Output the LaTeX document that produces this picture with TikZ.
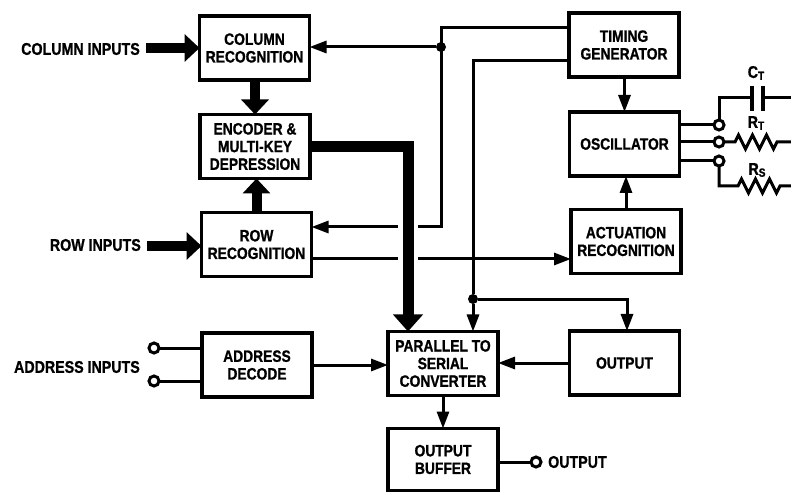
\documentclass[tikz,border=0pt]{standalone}
\usepackage{fontspec}
\setmainfont{Liberation Sans}[FakeStretch=0.84,BoldFeatures={FakeBold=1}]
\usepackage{tikz}
\usetikzlibrary{arrows.meta,positioning,calc}

\tikzset{
    block/.style={draw, line width=3.4bp, outer sep=0pt, inner sep=0pt, minimum width=110bp, minimum height=64bp,
        align=center, font=\fontsize{16.5}{17.7}\selectfont\bfseries},
    txt/.style={inner sep=0pt, font=\fontsize{17}{18}\selectfont\bfseries},
    wire/.style={line width=3bp},
    sig/.style={wire, -{Triangle[length=17bp,width=12bp]}},
    bus/.style={line width=10bp, -{Triangle[length=15bp,width=27bp]}},
    term/.style={circle, draw, fill=white, line width=3bp, minimum size=10bp, inner sep=0pt, outer sep=0pt},
    dot/.style={circle, fill=black, minimum size=10bp, inner sep=0pt, outer sep=0pt},
}

\begin{document}
\begin{tikzpicture}[x=1bp, y=-1bp]
    \useasboundingbox (0, 0) rectangle (791, 492);

    % blocks
    \node[block] (colrec) at (254.5, 48) {COLUMN\\RECOGNITION};
    \node[block] (encoder) at (255, 146.5) {ENCODER \&\\MULTI-KEY\\DEPRESSION};
    \node[block] (rowrec) at (256.5, 244.5) {ROW\\RECOGNITION};
    \node[block] (timing) at (624, 45) {TIMING\\GENERATOR};
    \node[block] (osc) at (624.5, 144) {OSCILLATOR};
    \node[block] (actrec) at (626, 241.5) {ACTUATION\\RECOGNITION};
    \node[block] (addr) at (257, 365) {ADDRESS\\DECODE};
    \node[block] (pts) at (443, 363.5) {PARALLEL TO\\SERIAL\\CONVERTER};
    \node[block] (outctl) at (624.5, 363) {OUTPUT};
    \node[block, minimum height=62bp] (outbuf) at (443, 459.5) {OUTPUT\\BUFFER};

    % input labels
    \node[txt, anchor=east] (colin) at (140, 49) {COLUMN INPUTS};
    \node[txt, anchor=east] (rowin) at (141, 245) {ROW INPUTS};
    \node[txt, anchor=east] (addrin) at (140, 367) {ADDRESS INPUTS};
    \node[term] (addra) at (154, 348) {};
    \node[term] (addrb) at (154, 381) {};

    % wide arrows
    \coordinate (colstart) at (146, 48);
    \coordinate (rowstart) at (147, 246);
    \draw[bus] (colstart) -- (colrec.west |- colstart);
    \draw[bus] (rowstart) -- (rowrec.west |- rowstart);
    \draw[bus] (encoder.north |- colrec.south) -- (encoder.north);
    \draw[bus] (rowrec.north) -- (rowrec.north |- encoder.south);
    \coordinate (buscorner) at (408, 147);
    \draw[line width=11bp, -{Triangle[length=17bp,width=29bp]}] (encoder.east |- buscorner) -- (buscorner) -- (buscorner |- pts.north);

    % clock lines from the timing block
    \coordinate (clktop) at (441, 28);
    \coordinate (clkbot) at (441, 227);
    \coordinate (gapa) at (418, 227);
    \coordinate (gapb) at (398, 227);
    \node[dot] (clkdot) at (441, 47) {};
    \draw[wire] (timing.west |- clktop) -- (clktop) -- (clkbot) -- (gapa);
    \draw[sig] (clkdot) -- (colrec.east |- clkdot);
    \draw[sig] (gapb) -- (rowrec.east |- gapb);

    \coordinate (seltop) at (473, 61);
    \node[dot] (seldot) at (473, 299) {};
    \coordinate (selright) at (627, 299);
    \draw[wire] (timing.west |- seltop) -- (seltop) -- (seldot);
    \draw[sig] (seldot) -- (seldot |- pts.north);
    \draw[sig] (seldot) -- (selright) -- (selright |- outctl.north);

    % row to actuation
    \coordinate (acta) at (398, 259);
    \coordinate (actb) at (418, 259);
    \draw[wire] (rowrec.east |- acta) -- (acta);
    \draw[sig] (actb) -- (actrec.west |- actb);

    % plain arrows
    \draw[sig] (timing.south -| osc.north) -- (osc.north);
    \draw[sig] (actrec.north) -- (actrec.north |- osc.south);
    \draw[sig] (addr.east) -- (pts.west |- addr.east);
    \draw[sig] (outctl.west) -- (pts.east |- outctl.west);
    \draw[sig] (pts.south) -- (outbuf.north);

    % address pins
    \draw[wire] (addra) -- (addr.west |- addra);
    \draw[wire] (addrb) -- (addr.west |- addrb);

    % output pin
    \node[term] (outpin) at (536, 462) {};
    \node[txt, anchor=west] (outlabel) at (548, 462) {OUTPUT};
    \draw[wire] (outbuf.east |- outpin) -- (outpin);

    % timing components
    \node[term] (pinc) at (719, 125) {};
    \node[term] (pinr) at (719, 142) {};
    \node[term] (pins) at (719, 161) {};
    \draw[wire] (osc.east |- pinc) -- (pinc);
    \draw[wire] (osc.east |- pinr) -- (pinr);
    \draw[wire] (osc.east |- pins) -- (pins);

    \node[txt] (ctlabel) at (756, 73) {C\raisebox{-2bp}{\fontsize{12}{12}\selectfont T}};
    \node[txt] (rtlabel) at (756, 123) {R\raisebox{-2bp}{\fontsize{12}{12}\selectfont T}};
    \node[txt] (rslabel) at (757, 170) {R\raisebox{-2bp}{\fontsize{12}{12}\selectfont S}};

    \coordinate (capa) at (752, 98);
    \coordinate (capb) at (763, 98);
    \coordinate (edgec) at (791, 98);
    \draw[wire] (pinc) -- (pinc |- capa) -- (capa);
    \draw[wire] (capb) -- (edgec);
    \draw[line width=3.4bp] ($(capa)+(0,-12)$) -- ($(capa)+(0,13)$);
    \draw[line width=3.4bp] ($(capb)+(0,-12)$) -- ($(capb)+(0,13)$);

    \draw[wire] (pinr) -- ++(16, 0) -- ++(3.5, -7) -- ++(7, 14) -- ++(7, -14) -- ++(7, 14) -- ++(7, -14) -- ++(7, 14)
        -- ++(3.5, -7) -- (791, 142);
    \draw[wire] (pins) -- (719, 186) -- (738, 186) -- ++(3.5, -7) -- ++(7, 14) -- ++(7, -14) -- ++(7, 14) -- ++(7, -14) -- ++(7, 14)
        -- ++(3.5, -7) -- (791, 186);
\end{tikzpicture}
\end{document}
